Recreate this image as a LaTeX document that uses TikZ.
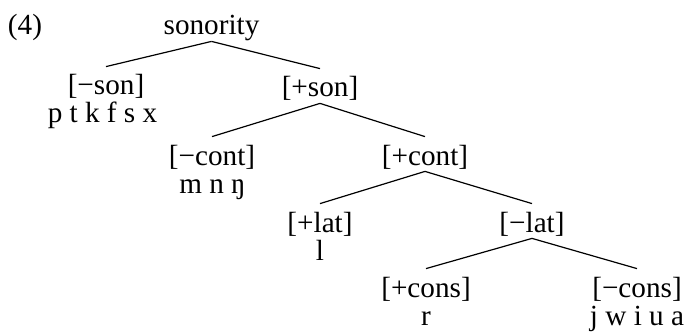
\documentclass[tikz,border=0pt]{standalone}
\usepackage{fontspec}
\setmainfont{Liberation Serif}
\begin{document}
\begin{tikzpicture}[x=0.5pt,y=-0.5pt,
  every node/.style={font=\fontsize{14.6}{17}\selectfont, inner sep=0pt, anchor=base},
  feat/.style={text height=14pt, text depth=3pt},
  leaf/.style={text height=14pt, text depth=0pt},
  seg/.style={},
  branch/.style={draw=black, line width=0.6pt}]
\useasboundingbox (0,0) rectangle (688,331);
\node (ex) at (25,35) {(4)};
\node[feat] (root) at (211.5,35) {sonority};
\node[leaf] (mson) at (106,95) {[−son]};
\node[seg] (obs) at (102.5,123) {p t k f s x};
\node[feat] (pson) at (320,97) {[+son]};
\node[feat] (mcont) at (212,165) {[−cont]};
\node[seg] (nas) at (212.5,193) {m n ŋ};
\node[feat] (pcont) at (425,165) {[+cont]};
\node[feat] (plat) at (320,232) {[+lat]};
\node[seg] (lat) at (320,260) {l};
\node[feat] (mlat) at (532,232) {[−lat]};
\node[feat] (pcons) at (426,297) {[+cons]};
\node[seg] (rho) at (426,325) {r};
\node[feat] (mcons) at (637,297) {[−cons]};
\node[seg] (glides) at (637,325) {j w i u a};
\draw[branch] (root.south) -- (mson.north);
\draw[branch] (root.south) -- (pson.north);
\draw[branch] (pson.south) -- (mcont.north);
\draw[branch] (pson.south) -- (pcont.north);
\draw[branch] (pcont.south) -- (plat.north);
\draw[branch] (pcont.south) -- (mlat.north);
\draw[branch] (mlat.south) -- (pcons.north);
\draw[branch] (mlat.south) -- (mcons.north);
\end{tikzpicture}
\end{document}
